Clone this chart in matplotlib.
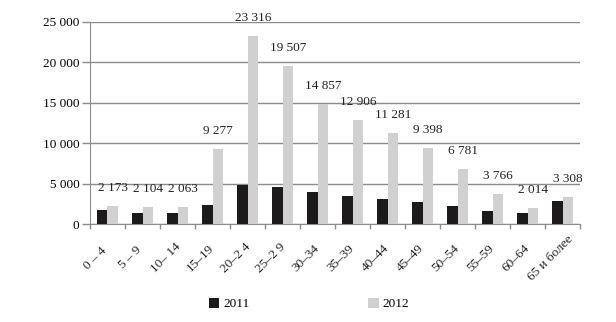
import numpy as np
import matplotlib
matplotlib.use('Agg')
import matplotlib.pyplot as plt
from matplotlib.ticker import FuncFormatter

plt.rcParams['font.family'] = ['Liberation Serif', 'DejaVu Serif']

# age groups
groups = ['0 – 4', '5 – 9', '10– 14', '15–19', '20–2 4', '25–2 9', '30–34',
          '35–39', '40–44', '45–49', '50–54', '55–59', '60–64', '65 и более']
# 2011 values (no labels in the picture)
v2011 = [1750, 1400, 1400, 2350, 4830, 4580, 3960,
         3470, 3100, 2720, 2230, 1610, 1360, 2850]
# 2012 values (labelled)
v2012 = [2173, 2104, 2063, 9277, 23316, 19507, 14857,
         12906, 11281, 9398, 6781, 3766, 2014, 3308]

fig = plt.figure(figsize=(6.16, 3.22), dpi=100)
ax = fig.add_axes([0.1461, 0.3043, 0.7955, 0.6274])

x = np.arange(len(groups))
w = 0.3
b1 = ax.bar(x - w / 2, v2011, w, color='#1c1a1b', label='2011', zorder=3)
b2 = ax.bar(x + w / 2, v2012, w, color='#d0d0d0', label='2012', zorder=3)

ax.set_xlim(-0.5, len(groups) - 0.5)
ax.set_ylim(0, 25000)
ax.set_yticks(np.arange(0, 25001, 5000))
ax.yaxis.set_major_formatter(FuncFormatter(lambda v, p: f'{int(v):,}'.replace(',', ' ')))
ax.grid(axis='y', color='#8c8c8c', linewidth=1.0, zorder=0)

for s in ['top', 'right']:
    ax.spines[s].set_visible(False)
ax.spines['left'].set_color('#8c8c8c')
ax.spines['bottom'].set_color('#8c8c8c')

ax.set_xticks(np.arange(-0.5, len(groups)), labels=[])
ax.tick_params(axis='x', length=3.5, color='#8c8c8c', width=1)
ax.tick_params(axis='y', length=5.5, color='#8c8c8c', width=1, labelsize=9.5, pad=2)

# rotated category labels
for i, g in enumerate(groups):
    ax.annotate(g, xy=(i, 0), xycoords=('data', 'axes fraction'),
                xytext=(-12, -34), textcoords='offset pixels',
                ha='center', va='center', rotation=45, rotation_mode='anchor',
                fontsize=9.5, color='#222222')

# value labels above 2012 bars
for i, v in enumerate(v2012):
    ax.annotate(f'{v:,}'.replace(',', ' '), xy=(i + w / 2, v),
                xytext=(0, 18), textcoords='offset pixels',
                ha='center', va='center', fontsize=9.5, color='#222222')

fig.legend(handles=[b1, b2], loc='center', bbox_to_anchor=(0.502, 0.056), ncol=2,
           frameon=False, fontsize=9.5, handlelength=0.8, handleheight=0.8,
           handletextpad=0.3, columnspacing=9)

fig.savefig('out.png', dpi=100)
